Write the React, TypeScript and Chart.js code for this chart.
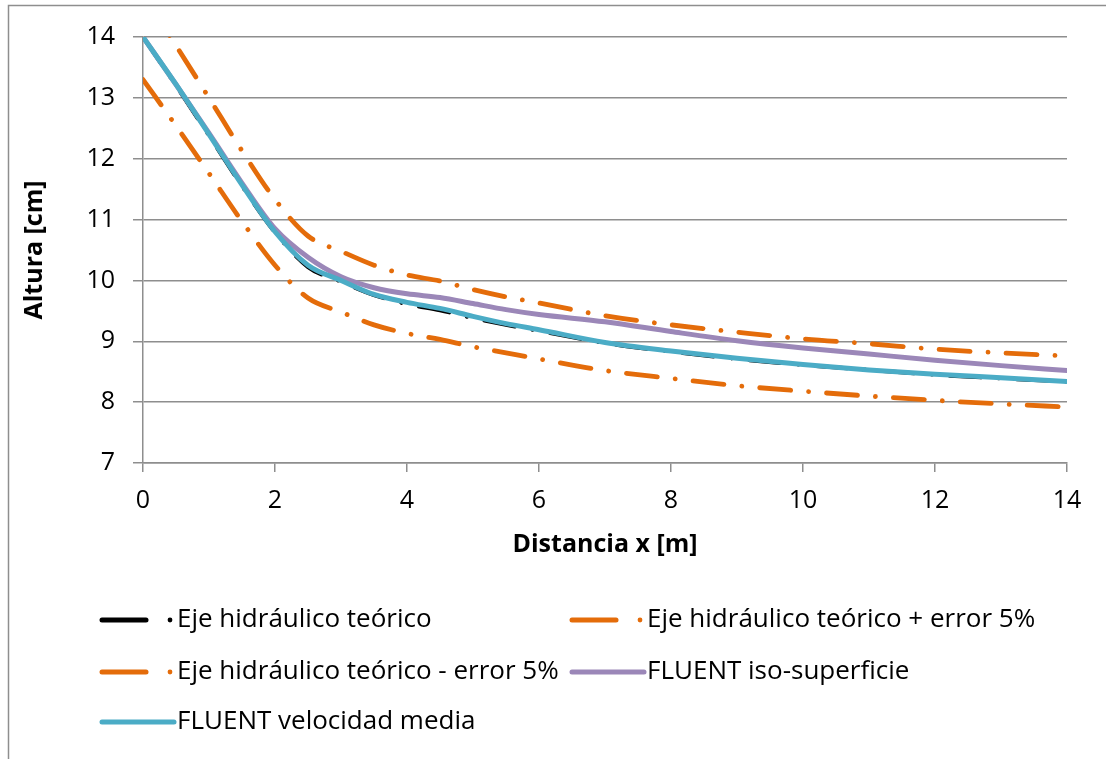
import React, { useEffect, useRef } from "react";
import { Chart, registerables } from "chart.js";

Chart.register(...registerables);

// ---- data ----
const xValues = [0, 0.5, 1, 1.5, 2, 2.5, 3, 3.5, 4, 4.5, 5, 5.5, 6, 7, 8, 9, 10, 11, 12, 13, 14];
const theory = [14.0, 13.2, 12.38, 11.55, 10.79, 10.22, 9.98, 9.76, 9.61, 9.51, 9.38, 9.27, 9.17, 8.97, 8.83, 8.71, 8.61, 8.53, 8.45, 8.39, 8.34];
const theoryPlus = [14.7, 13.86, 13.0, 12.13, 11.33, 10.73, 10.48, 10.25, 10.09, 9.99, 9.85, 9.73, 9.63, 9.42, 9.27, 9.15, 9.04, 8.96, 8.87, 8.81, 8.76];
const theoryMinus = [13.3, 12.54, 11.76, 10.97, 10.25, 9.71, 9.48, 9.27, 9.13, 9.03, 8.91, 8.81, 8.71, 8.52, 8.39, 8.27, 8.18, 8.1, 8.03, 7.97, 7.92];
const fluentIso = [14.0, 13.22, 12.42, 11.6, 10.85, 10.38, 10.06, 9.88, 9.78, 9.72, 9.62, 9.52, 9.44, 9.32, 9.16, 9.01, 8.89, 8.79, 8.69, 8.6, 8.52];
const fluentVel = [14.0, 13.22, 12.4, 11.57, 10.8, 10.25, 10.0, 9.77, 9.64, 9.54, 9.41, 9.29, 9.19, 8.98, 8.84, 8.72, 8.62, 8.53, 8.46, 8.4, 8.34];

const seriesLabels = [
  "Eje hidráulico teórico",
  "Eje hidráulico teórico + error 5%",
  "Eje hidráulico teórico - error 5%",
  "FLUENT iso-superficie",
  "FLUENT velocidad media",
];
const xTickValues = [0, 2, 4, 6, 8, 10, 12, 14];
const yTickValues = [7, 8, 9, 10, 11, 12, 13, 14];
const xTitle = "Distancia x [m]";
const yTitle = "Altura [cm]";

// ---- styles / layout ----
const FONT = "'Open Sans', Lato, sans-serif";
const TICK_SIZE = 25;
const TITLE_SIZE = 25;
const LEGEND_SIZE = 26;
const GRID = "#8e8e8e";
const ORANGE = "#E46C0A";
const PURPLE = "#9B87B8";
const CYAN = "#4BACC6";
const DASH = [31, 18, 0.01, 18];
const legendSlots = [
  { x: 100, y: 620 },
  { x: 570, y: 620 },
  { x: 100, y: 672 },
  { x: 570, y: 672 },
  { x: 100, y: 722 },
];

const toPts = (ys: number[]) => xValues.map((x, i) => ({ x, y: ys[i] }));

const framePlugin = {
  id: "frame",
  beforeDraw(chart: any) {
    const ctx = chart.ctx;
    ctx.save();
    ctx.fillStyle = "#fff";
    ctx.fillRect(0, 0, chart.width, chart.height);
    ctx.strokeStyle = GRID;
    ctx.lineWidth = 1.5;
    ctx.strokeRect(8.5, 5.5, chart.width + 20, chart.height + 20);
    ctx.restore();
  },
};

const legendPlugin = {
  id: "excelLegend",
  afterDraw(chart: any) {
    const ctx = chart.ctx;
    ctx.save();
    chart.data.datasets.forEach((ds: any, i: number) => {
      const slot = legendSlots[i];
      if (!slot) return;
      ctx.strokeStyle = ds.borderColor;
      ctx.fillStyle = ds.borderColor;
      ctx.lineWidth = 5;
      ctx.lineCap = "round";
      ctx.setLineDash([]);
      ctx.beginPath();
      if (ds.borderDash && ds.borderDash.length) {
        ctx.moveTo(slot.x + 2, slot.y);
        ctx.lineTo(slot.x + 46, slot.y);
        ctx.stroke();
        ctx.beginPath();
        ctx.arc(slot.x + 70, slot.y, 2.4, 0, Math.PI * 2);
        ctx.fill();
      } else {
        ctx.moveTo(slot.x + 2, slot.y);
        ctx.lineTo(slot.x + 74, slot.y);
        ctx.stroke();
      }
      ctx.fillStyle = "#000";
      ctx.font = `${LEGEND_SIZE}px ${FONT}`;
      ctx.textBaseline = "middle";
      ctx.textAlign = "left";
      ctx.fillText(ds.label, slot.x + 77, slot.y);
    });
    ctx.restore();
  },
};

export default function App() {
  const ref = useRef<HTMLCanvasElement | null>(null);

  useEffect(() => {
    document.body.style.margin = "0";
    const canvas = ref.current!;
    const mk = (i: number, ys: number[], color: string, width: number, dash: number[] | undefined, order: number) => ({
      label: seriesLabels[i],
      data: toPts(ys),
      borderColor: color,
      backgroundColor: color,
      borderWidth: width,
      borderDash: dash,
      borderCapStyle: "round",
      borderJoinStyle: "round",
      pointRadius: 0,
      pointHoverRadius: 0,
      cubicInterpolationMode: "monotone",
      fill: false,
      order,
    });
    const chart = new Chart(canvas, {
      type: "line",
      data: {
        datasets: [
          mk(0, theory, "#000000", 4, DASH, 4),
          mk(1, theoryPlus, ORANGE, 4.8, DASH, 3),
          mk(2, theoryMinus, ORANGE, 4.8, DASH, 2),
          mk(3, fluentIso, PURPLE, 5, undefined, 1),
          mk(4, fluentVel, CYAN, 5, undefined, 0),
        ] as any,
      },
      options: {
        animation: false,
        responsive: false,
        devicePixelRatio: 1,
        layout: { padding: { top: 37, right: 39, left: 0, bottom: 0 } },
        plugins: { legend: { display: false }, tooltip: { enabled: false } },
        scales: {
          x: {
            type: "linear",
            min: 0,
            max: 14,
            afterBuildTicks: (s: any) => {
              s.ticks = xTickValues.map((v) => ({ value: v }));
            },
            afterFit: (s: any) => {
              s.height = 296;
            },
            grid: { drawOnChartArea: false, drawTicks: true, tickLength: 9, color: GRID, lineWidth: 1.5 },
            border: { display: true, color: GRID, width: 1.5 },
            ticks: { color: "#000", font: { family: FONT, size: TICK_SIZE, lineHeight: 1.2 }, padding: 14, maxRotation: 0 },
            title: {
              display: true,
              text: xTitle,
              color: "#000",
              font: { family: FONT, size: TITLE_SIZE, weight: "bold", lineHeight: 1.2 },
              padding: { top: 0, bottom: 199 },
            },
          },
          y: {
            type: "linear",
            min: 7,
            max: 14,
            afterBuildTicks: (s: any) => {
              s.ticks = yTickValues.map((v) => ({ value: v }));
            },
            afterFit: (s: any) => {
              s.width = 143;
            },
            grid: { drawOnChartArea: true, drawTicks: true, tickLength: 10, color: GRID, lineWidth: 1.5 },
            border: { display: true, color: GRID, width: 1.5 },
            ticks: { color: "#000", font: { family: FONT, size: TICK_SIZE }, padding: 18 },
            title: {
              display: true,
              text: yTitle,
              color: "#000",
              font: { family: FONT, size: TITLE_SIZE, weight: "bold", lineHeight: 1.2 },
              padding: { top: 20, bottom: 0 },
            },
          },
        },
      } as any,
      plugins: [framePlugin, legendPlugin],
    });
    const fonts: any = (document as any).fonts;
    if (fonts && fonts.load) {
      Promise.all([
        fonts.load(`${LEGEND_SIZE}px 'Open Sans'`),
        fonts.load(`bold ${TITLE_SIZE}px 'Open Sans'`),
      ])
        .then(() => chart.update())
        .catch(() => {});
    }
    return () => chart.destroy();
  }, []);

  return (
    <div style={{ width: 1106, height: 759 }}>
      <canvas ref={ref} width={1106} height={759} style={{ display: "block" }} />
    </div>
  );
}
